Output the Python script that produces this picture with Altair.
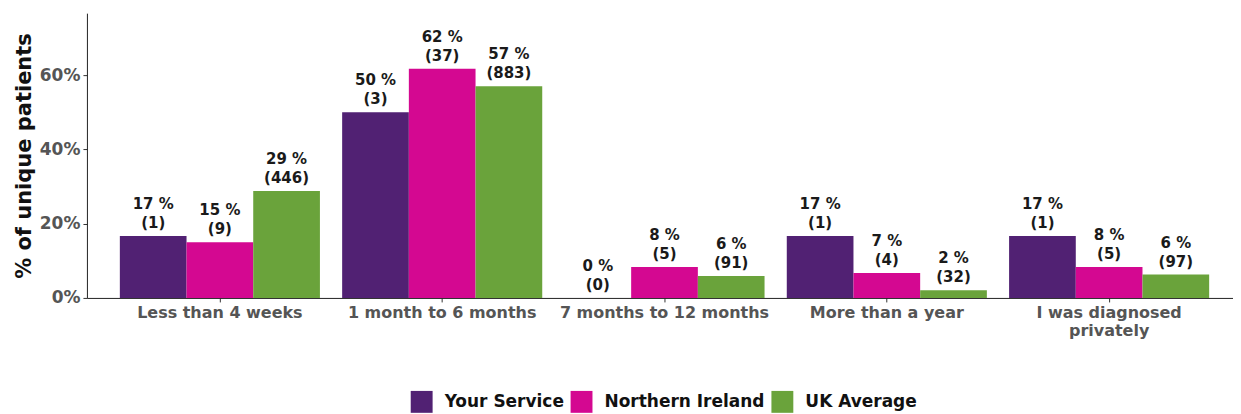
import altair as alt
import pandas as pd

categories = ["Less than 4 weeks", "1 month to 6 months", "7 months to 12 months",
              "More than a year", "I was diagnosed privately"]
series = ["Your Service", "Northern Ireland", "UK Average"]
colors = ["#512173", "#d40891", "#6aa33b"]

your_service_pct = [16.7, 50.0, 0.0, 16.7, 16.7]
your_service_n = [1, 3, 0, 1, 1]
ni_pct = [15.0, 61.7, 8.3, 6.7, 8.3]
ni_n = [9, 37, 5, 4, 5]
uk_pct = [28.8, 57.0, 5.9, 2.1, 6.3]
uk_n = [446, 883, 91, 32, 97]

rows = []
for s, pcts, ns in [(series[0], your_service_pct, your_service_n),
                    (series[1], ni_pct, ni_n),
                    (series[2], uk_pct, uk_n)]:
    for c, p, n in zip(categories, pcts, ns):
        rows.append({"category": c, "series": s, "value": p / 100.0,
                     "label": [f"{round(p)} %", f"({n})"]})
df = pd.DataFrame(rows)

FONT = "DejaVu Sans"

x = alt.X("category:N", sort=categories, title=None,
          scale=alt.Scale(paddingInner=0.1, paddingOuter=0.1276, align=0.58),
          axis=alt.Axis(labelAngle=0, labelFontSize=16, labelFontWeight="bold",
                        labelColor="#555555", labelPadding=3, tickSize=4,
                        tickColor="#333333", domainColor="#222222",
                        labelLineHeight=18, labelLimit=400,
                        labelExpr="datum.label == 'I was diagnosed privately' ? ['I was diagnosed', 'privately'] : datum.label"))
xo = alt.XOffset("series:N", sort=series, scale=alt.Scale(paddingInner=0, paddingOuter=0))

bars = alt.Chart(df).mark_bar().encode(
    x=x,
    xOffset=xo,
    y=alt.Y("value:Q", title="% of unique patients",
            scale=alt.Scale(domain=[0, 0.767], nice=False, zero=True),
            axis=alt.Axis(format=".0%", values=[0, 0.2, 0.4, 0.6], grid=False,
                          labelFontSize=17, labelFontWeight="bold", labelColor="#555555",
                          tickSize=4, tickColor="#333333", domainColor="#222222",
                          labelPadding=3, titleFontSize=21, titleFontWeight="bold",
                          titleColor="#111111", titlePadding=4,
                          minExtent=48, maxExtent=48)),
    color=alt.Color("series:N", sort=series,
                    scale=alt.Scale(domain=series, range=colors),
                    legend=alt.Legend(title=None, orient="none", direction="horizontal",
                                      legendX=324, legendY=378,
                                      symbolType="square", symbolSize=480,
                                      symbolStrokeWidth=0, symbolOpacity=1,
                                      labelFontSize=17, labelFontWeight="bold",
                                      labelColor="#111111", labelOffset=12,
                                      labelLimit=400, columnPadding=6)),
)

text = alt.Chart(df).mark_text(baseline="bottom", dy=-24, fontSize=15, fontWeight="bold",
                               color="#1a1a1a", lineHeight=19, font=FONT).encode(
    x=x,
    xOffset=xo,
    y="value:Q",
    text="label",
)

chart = (bars + text).properties(
    width=1147, height=285,
    padding={"left": 5, "top": 5, "right": 0, "bottom": 0},
).configure(font=FONT).configure_view(stroke=None)

chart.save("out.html", embed_options={"renderer": "svg", "actions": False})
